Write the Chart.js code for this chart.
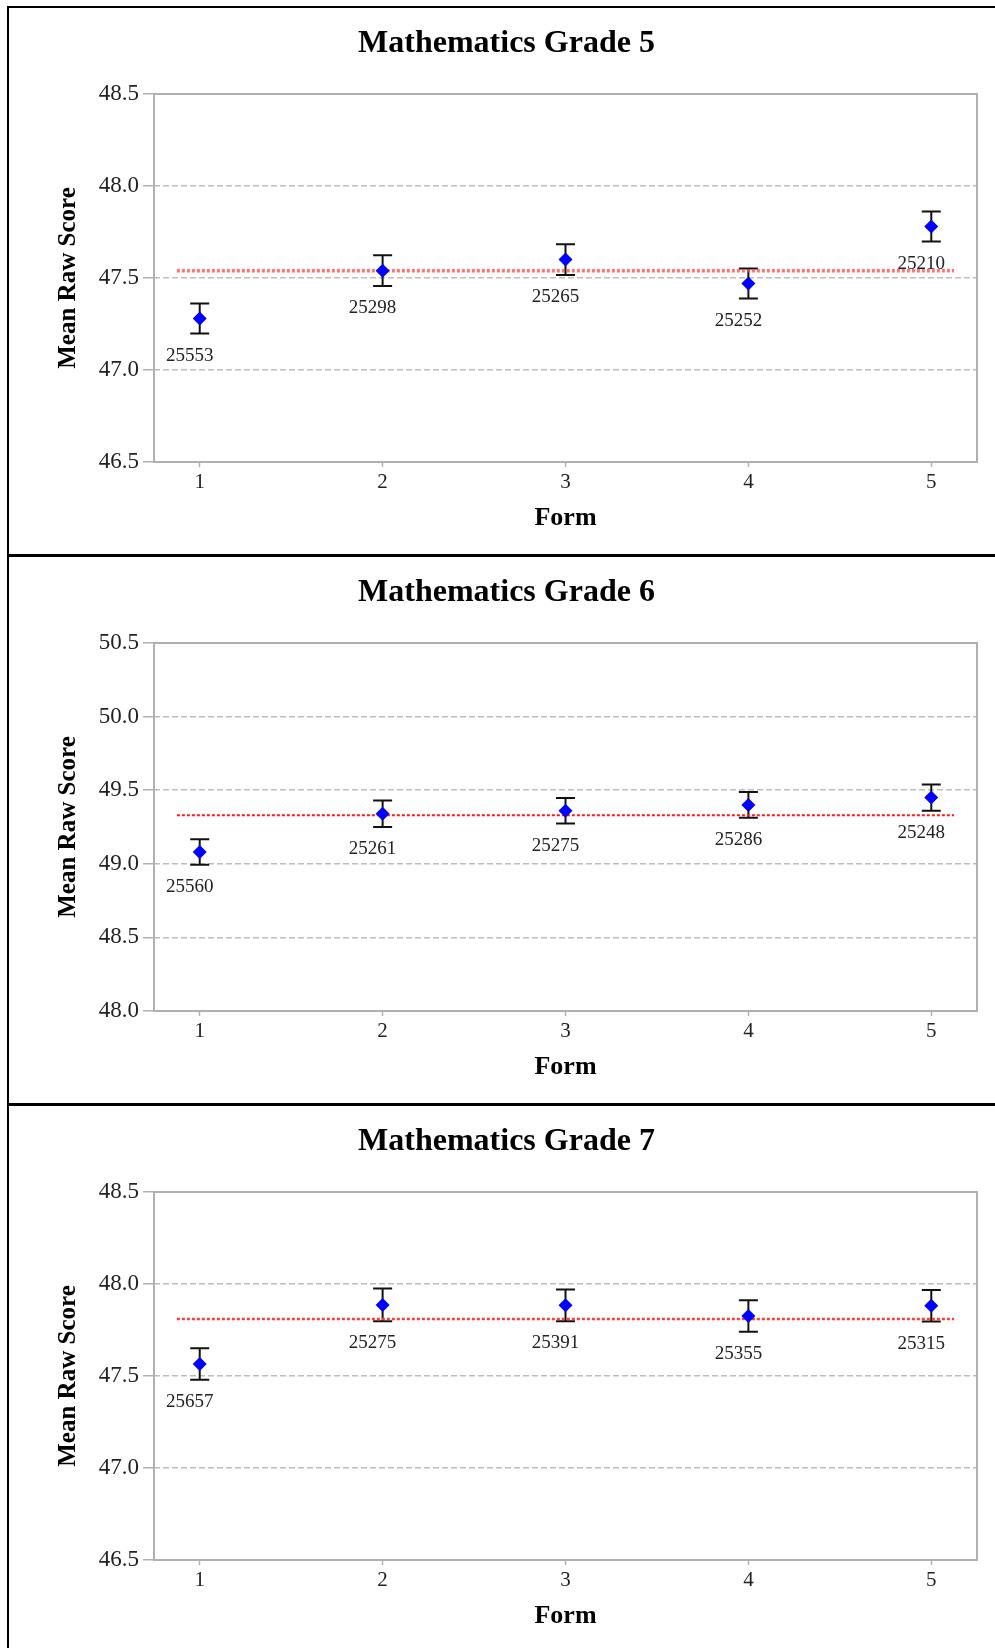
<!DOCTYPE html>
<html>
<head>
<meta charset="utf-8">
<title>Mathematics Mean Raw Score by Form</title>
<script src="https://cdn.jsdelivr.net/npm/chart.js@4.4.1/dist/chart.umd.min.js"></script>
<style>
  html, body { margin: 0; padding: 0; background: #fff; overflow: hidden; }
  #panels { position: absolute; left: 7px; top: 6px; width: 999px; }
  .panel { border-left: 2px solid #000; border-right: 2px solid #000; border-top: 3px solid #000; height: 546px; }
  .panel:first-child { border-top-width: 2px; }
  canvas { display: block; }
</style>
</head>
<body>
<div id="panels">
  <div class="panel"><canvas id="grade5" width="995" height="546"></canvas></div>
  <div class="panel"><canvas id="grade6" width="995" height="546"></canvas></div>
  <div class="panel"><canvas id="grade7" width="995" height="546"></canvas></div>
</div>
<script>
'use strict';

const forms = [1, 2, 3, 4, 5];

// Grade 5
const grade5Means = [47.28, 47.54, 47.60, 47.47, 47.78];
const grade5Err = [0.082, 0.083, 0.084, 0.082, 0.082];
const grade5N = [25553, 25298, 25265, 25252, 25210];
const grade5Grand = 47.54;
const grade5Ticks = [46.5, 47.0, 47.5, 48.0, 48.5];

// Grade 6
const grade6Means = [49.08, 49.34, 49.36, 49.40, 49.45];
const grade6Err = [0.086, 0.090, 0.087, 0.088, 0.089];
const grade6N = [25560, 25261, 25275, 25286, 25248];
const grade6Grand = 49.33;
const grade6Ticks = [48.0, 48.5, 49.0, 49.5, 50.0, 50.5];

// Grade 7
const grade7Means = [47.565, 47.886, 47.884, 47.826, 47.882];
const grade7Err = [0.086, 0.089, 0.086, 0.086, 0.086];
const grade7N = [25657, 25275, 25391, 25355, 25315];
const grade7Grand = 47.81;
const grade7Ticks = [46.5, 47.0, 47.5, 48.0, 48.5];

// the grand mean line runs a bit past the first and last form
const meanLineFrom = 0.875;
const meanLineTo = 5.125;

const serif = '"Liberation Serif", "Times New Roman", serif';
const axisGray = '#b0b0b0';

function makeChart(canvasId, title, means, errs, counts, grand, yTicks, lineStyle) {

  // plot frame, error bars and the N labels under each bar
  const extras = {
    id: 'extras',
    beforeDatasetsDraw(chart) {
      const ctx = chart.ctx;
      const area = chart.chartArea;
      const x = chart.scales.x;
      const y = chart.scales.y;

      ctx.save();
      ctx.strokeStyle = axisGray;
      ctx.lineWidth = 2;
      ctx.strokeRect(area.left, area.top, area.right - area.left, area.bottom - area.top);

      ctx.strokeStyle = '#111';
      ctx.lineWidth = 2;
      means.forEach((m, i) => {
        const px = x.getPixelForValue(forms[i]);
        const hi = y.getPixelForValue(m + errs[i]);
        const lo = y.getPixelForValue(m - errs[i]);
        ctx.beginPath();
        ctx.moveTo(px, hi);
        ctx.lineTo(px, lo);
        ctx.moveTo(px - 9.5, hi);
        ctx.lineTo(px + 9.5, hi);
        ctx.moveTo(px - 9.5, lo);
        ctx.lineTo(px + 9.5, lo);
        ctx.stroke();
      });
      ctx.restore();
    },
    afterDatasetsDraw(chart) {
      const ctx = chart.ctx;
      const x = chart.scales.x;
      const y = chart.scales.y;
      ctx.save();
      ctx.font = '19px ' + serif;
      ctx.fillStyle = '#222';
      ctx.textAlign = 'center';
      ctx.textBaseline = 'middle';
      counts.forEach((n, i) => {
        const px = x.getPixelForValue(forms[i]) - 10;
        const py = y.getPixelForValue(means[i] - errs[i]) + 22;
        ctx.fillText(String(n), px, py);
      });
      ctx.restore();
    }
  };

  return new Chart(document.getElementById(canvasId), {
    type: 'scatter',
    data: {
      datasets: [{
        label: 'Mean',
        data: forms.map((f, i) => ({ x: f, y: means[i] })),
        pointStyle: 'rectRot',
        pointRadius: 7,
        pointBackgroundColor: '#0000ff',
        pointBorderColor: '#0000ff',
        pointBorderWidth: 0,
        order: 0
      }, {
        label: 'Grand mean',
        data: [{ x: meanLineFrom, y: grand }, { x: meanLineTo, y: grand }],
        showLine: true,
        borderColor: lineStyle.color,
        borderWidth: lineStyle.width,
        borderDash: [3, 2],
        pointRadius: 0,
        order: 1
      }]
    },
    options: {
      responsive: false,
      animation: false,
      devicePixelRatio: 1,
      // equal side padding keeps the title centred on the whole panel
      layout: { padding: { left: 27, right: 27, top: 0, bottom: 0 } },
      plugins: {
        legend: { display: false },
        tooltip: { enabled: false },
        title: {
          display: true,
          text: title,
          color: '#000',
          font: { family: serif, size: 32, weight: 'bold' },
          padding: { top: 16.6, bottom: 31 }
        }
      },
      scales: {
        x: {
          type: 'linear',
          min: 0.75,
          max: 5.25,
          afterBuildTicks: s => { s.ticks = forms.map(v => ({ value: v })); },
          afterFit: s => { s.height = 92; },
          grid: {
            drawOnChartArea: false,
            drawTicks: true,
            tickLength: 5,
            tickColor: axisGray,
            tickWidth: 1.5
          },
          border: { display: false },
          ticks: {
            padding: 3,
            color: '#222',
            font: { family: serif, size: 21 },
            callback: v => String(v)
          },
          title: {
            display: true,
            text: 'Form',
            color: '#000',
            font: { family: serif, size: 26, weight: 'bold' },
            padding: { top: 0, bottom: 20.4 }
          }
        },
        y: {
          type: 'linear',
          min: yTicks[0],
          max: yTicks[yTicks.length - 1],
          afterBuildTicks: s => { s.ticks = yTicks.map(v => ({ value: v })); },
          afterFit: s => { s.width = 118; },
          grid: {
            color: '#bdbdbd',
            lineWidth: 1.5,
            drawTicks: true,
            tickLength: 11,
            tickColor: axisGray,
            tickWidth: 1.5,
            tickBorderDash: []
          },
          border: { display: false, dash: [6, 3] },
          ticks: {
            padding: 4,
            color: '#222',
            font: { family: serif, size: 23 },
            callback: v => v.toFixed(1)
          },
          title: {
            display: true,
            text: 'Mean Raw Score',
            color: '#000',
            font: { family: serif, size: 25, weight: 'bold' },
            padding: { top: 17.5, bottom: 0 }
          }
        }
      }
    },
    plugins: [extras]
  });
}

makeChart('grade5', 'Mathematics Grade 5', grade5Means, grade5Err, grade5N, grade5Grand, grade5Ticks,
  { color: 'rgba(255, 70, 70, 0.75)', width: 3.5 });
makeChart('grade6', 'Mathematics Grade 6', grade6Means, grade6Err, grade6N, grade6Grand, grade6Ticks,
  { color: '#ff1a1a', width: 2 });
makeChart('grade7', 'Mathematics Grade 7', grade7Means, grade7Err, grade7N, grade7Grand, grade7Ticks,
  { color: '#ff3b3b', width: 2.5 });
</script>
</body>
</html>
